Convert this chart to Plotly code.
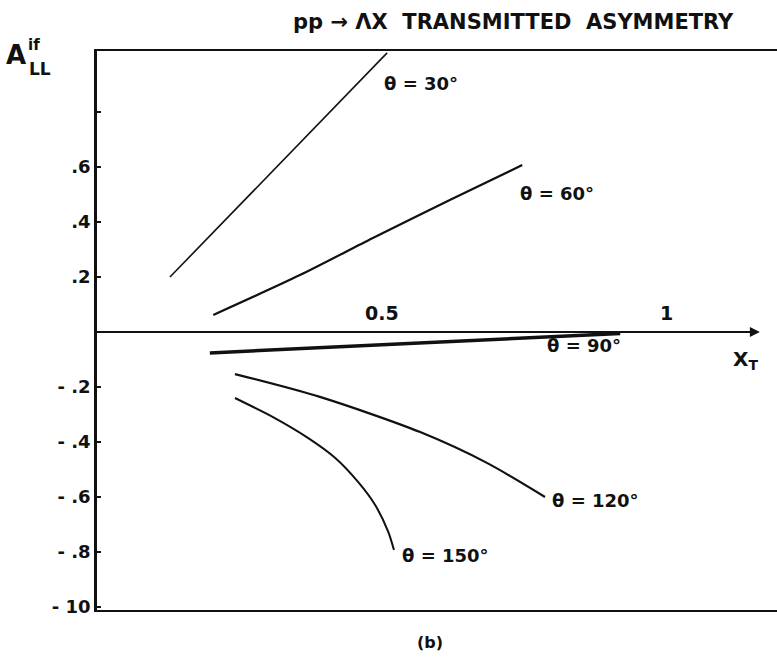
import plotly.graph_objects as go

# ---- data ----
x30 = [0.128, 0.509]
y30 = [0.200, 1.015]
x60 = [0.204, 0.356, 0.484, 0.619, 0.746]
y60 = [0.062, 0.207, 0.342, 0.480, 0.607]
x90 = [0.198, 0.918]
y90 = [-0.076, -0.005]
x120 = [0.242, 0.391, 0.567, 0.684, 0.786]
y120 = [-0.153, -0.236, -0.364, -0.476, -0.600]
x150 = [0.242, 0.312, 0.370, 0.418, 0.458, 0.488, 0.511, 0.521]
y150 = [-0.240, -0.313, -0.385, -0.458, -0.545, -0.629, -0.727, -0.793]

ytick_vals = [-1.0, -0.8, -0.6, -0.4, -0.2, 0.2, 0.4, 0.6, 0.8]
ytick_text = ["- 10", "- .8", "- .6", "- .4", "- .2", ".2", ".4", ".6", " "]
xtick_vals = [0.5, 1.0]
xtick_text = ["0.5", "1"]

labels = ["θ = 30°", "θ = 60°", "θ = 90°", "θ = 120°", "θ = 150°"]
label_pos = [(0.50, 0.905), (0.739, 0.505), (0.786, -0.05), (0.795, -0.611), (0.532, -0.811)]

FONT = "DejaVu Sans"
BLACK = "#111111"

fig = go.Figure()
series = [(x30, y30, 1.6), (x60, y60, 2.2), (x90, y90, 3.5), (x120, y120, 2.2), (x150, y150, 2.0)]
for xs, ys, w in series:
    fig.add_trace(go.Scatter(x=xs, y=ys, mode="lines",
                             line=dict(color=BLACK, width=w, shape="spline", smoothing=0.8),
                             showlegend=False, hoverinfo="skip"))

# zero axis with arrow
fig.add_shape(type="line", x0=0, x1=1.15, y0=0, y1=0, line=dict(color=BLACK, width=2.2))
fig.add_annotation(x=1.163, y=0, ax=1.10, ay=0, xref="x", yref="y", axref="x", ayref="y",
                   showarrow=True, arrowhead=2, arrowsize=1, arrowwidth=2, arrowcolor=BLACK, text=" ")

annots = []
for t, (lx, ly) in zip(labels, label_pos):
    annots.append(dict(x=lx, y=ly, xref="x", yref="y", text=t, showarrow=False, xanchor="left",
                       font=dict(family=FONT, size=18, color=BLACK, weight="bold")))
for v, t in zip(xtick_vals, xtick_text):
    annots.append(dict(x=v, y=0.07, xref="x", yref="y", text=t, showarrow=False, xanchor="center",
                       font=dict(family=FONT, size=19, color=BLACK, weight="bold")))
annots += [
    dict(x=1.112, y=-0.10, xref="x", yref="y", text="X<sub>T</sub>", showarrow=False, xanchor="left",
         font=dict(family=FONT, size=20, color=BLACK, weight="bold")),
    dict(x=0.613, y=1.052, xref="paper", yref="paper", text="pp → ΛX  TRANSMITTED  ASYMMETRY",
         showarrow=False, xanchor="center", yanchor="middle",
         font=dict(family=FONT, size=21, color=BLACK, weight="bold")),
    dict(x=0.49, y=-0.059, xref="paper", yref="paper", text="(b)", showarrow=False, xanchor="center",
         yanchor="middle", font=dict(family=FONT, size=16, color=BLACK, weight="bold")),
    dict(x=-0.119, y=0.993, xref="paper", yref="paper", text="A", showarrow=False, xanchor="center",
         yanchor="middle", font=dict(family=FONT, size=26, color=BLACK, weight="bold")),
    dict(x=-0.093, y=1.010, xref="paper", yref="paper", text="if", showarrow=False, xanchor="center",
         yanchor="middle", font=dict(family=FONT, size=15, color=BLACK, weight="bold")),
    dict(x=-0.084, y=0.968, xref="paper", yref="paper", text="LL", showarrow=False, xanchor="center",
         yanchor="middle", font=dict(family=FONT, size=17, color=BLACK, weight="bold")),
]

fig.update_layout(
    width=777, height=660, margin=dict(l=97, r=0, t=51, b=50),
    paper_bgcolor="white", plot_bgcolor="white",
    annotations=fig.layout.annotations + tuple(annots),
    xaxis=dict(range=[0, 1.193], showgrid=False, zeroline=False, showticklabels=False, ticks="",
               showline=True, mirror=True, linewidth=2.2, linecolor=BLACK),
    yaxis=dict(range=[-1.011, 1.022], showgrid=False, zeroline=False, showline=True, linewidth=2.5,
               linecolor=BLACK, ticks="inside", ticklen=4, tickwidth=2, tickcolor=BLACK,
               tickvals=ytick_vals, ticktext=ytick_text,
               tickfont=dict(family=FONT, size=18, color=BLACK, weight="bold")),
)

fig.write_html("out.html")
